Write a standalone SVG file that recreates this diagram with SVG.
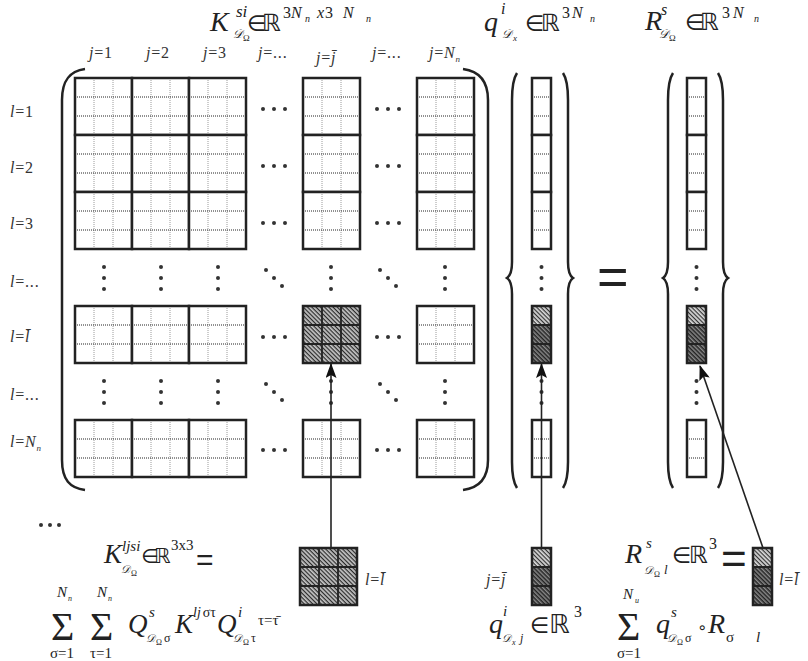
<svg xmlns="http://www.w3.org/2000/svg" xmlns:xlink="http://www.w3.org/1999/xlink" width="808" height="661" viewBox="0 0 808 661" font-family="'Liberation Serif', 'DejaVu Serif', serif">
<style>
.t{font-family:'Liberation Serif','DejaVu Serif',serif;fill:#222}
.i{font-style:italic}
.s{font-family:'Liberation Sans','DejaVu Sans',sans-serif;fill:#222}
.r{font-family:'DejaVu Sans',sans-serif;fill:#222}
.c{font-family:'DejaVu Serif','DejaVu Sans',serif;font-style:italic;fill:#222}
.lab{font-family:'Liberation Serif','DejaVu Serif',serif;font-size:16px;letter-spacing:0.8px;fill:#333}
.bk{fill:none;stroke:#222;stroke-width:2.5}
.dot{fill:#333}
.cn{stroke:#222;stroke-width:1.6;fill:none}
</style>
<defs>
<pattern id="hL" width="3" height="3" patternUnits="userSpaceOnUse" patternTransform="rotate(45)"><rect width="3" height="3" fill="#d8d8d8"/><rect width="3" height="1.2" fill="#333"/></pattern>
<pattern id="hD" width="3" height="3" patternUnits="userSpaceOnUse" patternTransform="rotate(45)"><rect width="3" height="3" fill="#8a8a8a"/><rect width="3" height="1.5" fill="#222"/></pattern>
<pattern id="hM" width="3" height="3" patternUnits="userSpaceOnUse" patternTransform="rotate(45)"><rect width="3" height="3" fill="#c4c4c4"/><rect width="3" height="1.2" fill="#2a2a2a"/></pattern>
<g id="blk">
<rect width="57" height="57" fill="#fff"/>
<path d="M19,0V57M38,0V57" stroke="#9a9a9a" stroke-width="1" stroke-dasharray="1 1"/>
<path d="M0,19H57M0,38H57" stroke="#222" stroke-width="1" stroke-dasharray="1 1"/>
<rect width="57" height="57" class="bk"/>
</g>
<g id="hblk">
<rect width="57" height="57" fill="url(#hM)"/>
<path d="M19,0V57M38,0V57M0,19H57M0,38H57" stroke="#222" stroke-width="1.8"/>
<rect width="57" height="57" class="bk"/>
</g>
<g id="vseg">
<rect width="19" height="57" fill="#fff"/>
<path d="M0,19H19M0,38H19" stroke="#222" stroke-width="1" stroke-dasharray="1 1"/>
<rect width="19" height="57" class="bk"/>
</g>
<g id="hvec">
<rect width="19" height="19" fill="url(#hL)"/>
<rect y="19" width="19" height="38" fill="url(#hD)"/>
<path d="M0,19H19M0,38H19" stroke="#222" stroke-width="1.8"/>
<rect width="19" height="57" class="bk"/>
</g>
<marker id="arr" viewBox="0 0 15 11" refX="14" refY="5.5" markerWidth="15" markerHeight="11" orient="auto" markerUnits="userSpaceOnUse"><path d="M0,0 L15,5.5 L0,11 L3,5.5 z" fill="#111"/></marker>
</defs>
<rect width="808" height="661" fill="#fff"/>

<!-- Titles -->
<g id="title-K">
<text class="t i" x="210" y="31" font-size="28">K</text>
<text class="t i" x="236" y="17" font-size="17">si</text>
<text class="c" x="233" y="38" font-size="12">𝒟</text>
<text class="t" x="243" y="41" font-size="9">Ω</text>
<text class="r" x="247" y="31" font-size="22">∈</text>
<text class="r" x="262" y="31" font-size="24">ℝ</text>
<text class="t" x="283" y="18" font-size="16">3</text>
<text class="t i" x="291" y="18" font-size="16">N</text>
<text class="t i" x="305" y="22" font-size="10">n</text>
<text class="t i" x="317" y="18" font-size="16">x</text>
<text class="t" x="325" y="18" font-size="16">3</text>
<text class="t i" x="343" y="18" font-size="16">N</text>
<text class="t i" x="366" y="22" font-size="10">n</text>
</g>
<g id="title-q">
<text class="t i" x="484" y="31" font-size="28">q</text>
<text class="t i" x="501" y="14" font-size="16">i</text>
<text class="c" x="502" y="38" font-size="12">𝒟</text>
<text class="t i" x="513" y="41" font-size="9">x</text>
<text class="r" x="525" y="31" font-size="22">∈</text>
<text class="r" x="541" y="31" font-size="24">ℝ</text>
<text class="t" x="562" y="18" font-size="16">3</text>
<text class="t i" x="572" y="18" font-size="16">N</text>
<text class="t i" x="590" y="22" font-size="10">n</text>
</g>
<g id="title-R">
<text class="t i" x="645" y="30" font-size="28">R</text>
<text class="t i" x="661" y="15" font-size="16">s</text>
<text class="c" x="659" y="38" font-size="12">𝒟</text>
<text class="t" x="669" y="41" font-size="9">Ω</text>
<text class="r" x="685" y="30" font-size="22">∈</text>
<text class="r" x="700" y="30" font-size="24">ℝ</text>
<text class="t" x="722" y="18" font-size="16">3</text>
<text class="t i" x="733" y="18" font-size="16">N</text>
<text class="t i" x="754" y="22" font-size="10">n</text>
</g>

<!-- column labels -->
<g id="col-labels" class="lab">
<text x="89" y="58"><tspan class="i">j</tspan>=1</text>
<text x="146" y="58"><tspan class="i">j</tspan>=2</text>
<text x="203" y="58"><tspan class="i">j</tspan>=3</text>
<text x="258" y="58"><tspan class="i">j</tspan>=...</text>
<text x="316" y="63"><tspan class="i">j</tspan>=<tspan class="i">j̄</tspan></text>
<text x="372" y="58"><tspan class="i">j</tspan>=...</text>
<text x="429" y="58"><tspan class="i">j</tspan>=<tspan class="i">N</tspan><tspan class="i" font-size="9" dy="4">n</tspan></text>
</g>

<!-- row labels -->
<g id="row-labels" class="lab">
<text x="10" y="117"><tspan class="i">l</tspan>=1</text>
<text x="10" y="173"><tspan class="i">l</tspan>=2</text>
<text x="10" y="229"><tspan class="i">l</tspan>=3</text>
<text x="10" y="287"><tspan class="i">l</tspan>=...</text>
<text x="10" y="342"><tspan class="i">l</tspan>=<tspan class="i">l̄</tspan></text>
<text x="10" y="400"><tspan class="i">l</tspan>=...</text>
<text x="10" y="447"><tspan class="i">l</tspan>=<tspan class="i">N</tspan><tspan class="i" font-size="9" dy="4">n</tspan></text>
</g>

<!-- Matrix K -->
<g id="matrix-K">
<path class="bk" d="M85,69 C70,71 62,80 62,100 L62,460 C62,480 70,488 85,490"/>
<path class="bk" d="M463,69 C478,71 488,80 488,100 L488,460 C488,480 478,488 463,490"/>
<use xlink:href="#blk" x="75" y="78"/><use xlink:href="#blk" x="132" y="78"/><use xlink:href="#blk" x="189" y="78"/><use xlink:href="#blk" x="303" y="78"/><use xlink:href="#blk" x="417" y="78"/>
<use xlink:href="#blk" x="75" y="135"/><use xlink:href="#blk" x="132" y="135"/><use xlink:href="#blk" x="189" y="135"/><use xlink:href="#blk" x="303" y="135"/><use xlink:href="#blk" x="417" y="135"/>
<use xlink:href="#blk" x="75" y="192"/><use xlink:href="#blk" x="132" y="192"/><use xlink:href="#blk" x="189" y="192"/><use xlink:href="#blk" x="303" y="192"/><use xlink:href="#blk" x="417" y="192"/>
<use xlink:href="#blk" x="75" y="306"/><use xlink:href="#blk" x="132" y="306"/><use xlink:href="#blk" x="189" y="306"/><use xlink:href="#hblk" x="303" y="306"/><use xlink:href="#blk" x="417" y="306"/>
<use xlink:href="#blk" x="75" y="420"/><use xlink:href="#blk" x="132" y="420"/><use xlink:href="#blk" x="189" y="420"/><use xlink:href="#blk" x="303" y="420"/><use xlink:href="#blk" x="417" y="420"/>
<g class="dot">
<circle cx="263" cy="109" r="2"/><circle cx="274" cy="109" r="2"/><circle cx="285" cy="109" r="2"/>
<circle cx="377" cy="109" r="2"/><circle cx="388" cy="109" r="2"/><circle cx="399" cy="109" r="2"/>
<circle cx="263" cy="166" r="2"/><circle cx="274" cy="166" r="2"/><circle cx="285" cy="166" r="2"/>
<circle cx="377" cy="166" r="2"/><circle cx="388" cy="166" r="2"/><circle cx="399" cy="166" r="2"/>
<circle cx="263" cy="223" r="2"/><circle cx="274" cy="223" r="2"/><circle cx="285" cy="223" r="2"/>
<circle cx="377" cy="223" r="2"/><circle cx="388" cy="223" r="2"/><circle cx="399" cy="223" r="2"/>
<circle cx="263" cy="337" r="2"/><circle cx="274" cy="337" r="2"/><circle cx="285" cy="337" r="2"/>
<circle cx="377" cy="337" r="2"/><circle cx="388" cy="337" r="2"/><circle cx="399" cy="337" r="2"/>
<circle cx="263" cy="450" r="2"/><circle cx="274" cy="450" r="2"/><circle cx="285" cy="450" r="2"/>
<circle cx="377" cy="450" r="2"/><circle cx="388" cy="450" r="2"/><circle cx="399" cy="450" r="2"/>
<circle cx="104" cy="267" r="2"/><circle cx="104" cy="278" r="2"/><circle cx="104" cy="289" r="2"/>
<circle cx="161" cy="267" r="2"/><circle cx="161" cy="278" r="2"/><circle cx="161" cy="289" r="2"/>
<circle cx="218" cy="267" r="2"/><circle cx="218" cy="278" r="2"/><circle cx="218" cy="289" r="2"/>
<circle cx="331" cy="267" r="2"/><circle cx="331" cy="278" r="2"/><circle cx="331" cy="289" r="2"/>
<circle cx="445" cy="267" r="2"/><circle cx="445" cy="278" r="2"/><circle cx="445" cy="289" r="2"/>
<circle cx="104" cy="381" r="2"/><circle cx="104" cy="392" r="2"/><circle cx="104" cy="403" r="2"/>
<circle cx="161" cy="381" r="2"/><circle cx="161" cy="392" r="2"/><circle cx="161" cy="403" r="2"/>
<circle cx="218" cy="381" r="2"/><circle cx="218" cy="392" r="2"/><circle cx="218" cy="403" r="2"/>
<circle cx="331" cy="381" r="2"/><circle cx="331" cy="392" r="2"/><circle cx="331" cy="403" r="2"/>
<circle cx="445" cy="381" r="2"/><circle cx="445" cy="392" r="2"/><circle cx="445" cy="403" r="2"/>
<circle cx="266" cy="270" r="2"/><circle cx="274" cy="278" r="2"/><circle cx="282" cy="286" r="2"/>
<circle cx="380" cy="270" r="2"/><circle cx="388" cy="278" r="2"/><circle cx="396" cy="286" r="2"/>
<circle cx="266" cy="384" r="2"/><circle cx="274" cy="392" r="2"/><circle cx="282" cy="400" r="2"/>
<circle cx="380" cy="384" r="2"/><circle cx="388" cy="392" r="2"/><circle cx="396" cy="400" r="2"/>
</g>
</g>

<!-- Vector q -->
<g id="vector-q">
<path class="bk" d="M517,73 C513,79 512,88 512,100 L512,262 C512,271 510,276 507,278 C510,280 512,285 512,294 L512,462 C512,474 513,482 517,488"/>
<path class="bk" d="M563,73 C567,79 568,88 568,100 L568,262 C568,271 570,276 573,278 C570,280 568,285 568,294 L568,462 C568,474 567,482 563,488"/>
<use xlink:href="#vseg" x="532" y="78"/><use xlink:href="#vseg" x="532" y="135"/><use xlink:href="#vseg" x="532" y="192"/>
<use xlink:href="#hvec" x="532" y="306"/><use xlink:href="#vseg" x="532" y="420"/>
<g class="dot">
<circle cx="541.5" cy="267" r="2"/><circle cx="541.5" cy="278" r="2"/><circle cx="541.5" cy="289" r="2"/>
<circle cx="541.5" cy="381" r="2"/><circle cx="541.5" cy="392" r="2"/><circle cx="541.5" cy="403" r="2"/>
</g>
</g>

<text class="s" x="597" y="295" font-size="54">=</text>

<!-- Vector R -->
<g id="vector-R">
<path class="bk" d="M673,73 C669,79 668,88 668,100 L668,262 C668,271 666,276 663,278 C666,280 668,285 668,294 L668,462 C668,474 669,482 673,488"/>
<path class="bk" d="M718,73 C722,79 723,88 723,100 L723,262 C723,271 725,276 728,278 C725,280 723,285 723,294 L723,462 C723,474 722,482 718,488"/>
<use xlink:href="#vseg" x="687" y="78"/><use xlink:href="#vseg" x="687" y="135"/><use xlink:href="#vseg" x="687" y="192"/>
<use xlink:href="#hvec" x="687" y="306"/><use xlink:href="#vseg" x="687" y="420"/>
<g class="dot">
<circle cx="696.5" cy="267" r="2"/><circle cx="696.5" cy="278" r="2"/><circle cx="696.5" cy="289" r="2"/>
<circle cx="696.5" cy="381" r="2"/><circle cx="696.5" cy="392" r="2"/><circle cx="696.5" cy="403" r="2"/>
</g>
</g>

<!-- connectors -->
<g id="connectors">
<path class="cn" d="M331,548 L331,364" marker-end="url(#arr)"/>
<path class="cn" d="M541.5,548 L541.5,364" marker-end="url(#arr)"/>
<path class="cn" d="M763,548 L700,366" marker-end="url(#arr)"/>
</g>

<!-- bottom blocks -->
<g id="block-Kljsi">
<use xlink:href="#hblk" x="300" y="548"/>
<text class="lab" x="365" y="585"><tspan class="i">l</tspan>=<tspan class="i">l̄</tspan></text>
</g>
<g id="block-q">
<use xlink:href="#hvec" x="532" y="548"/>
<text class="lab" x="486" y="585"><tspan class="i">j</tspan>=<tspan class="i">j̄</tspan></text>
</g>
<g id="block-R">
<use xlink:href="#hvec" x="753" y="548"/>
<text class="lab" x="779" y="585"><tspan class="i">l</tspan>=<tspan class="i">l̄</tspan></text>
</g>

<!-- bottom formula K -->
<g id="formula-K">
<g class="dot"><circle cx="41" cy="525" r="2"/><circle cx="50" cy="525" r="2"/><circle cx="59" cy="525" r="2"/></g>
<text class="t i" x="104" y="563" font-size="27">K</text>
<text class="t i" x="122" y="551" font-size="15">ljsi</text>
<text class="c" x="121" y="573" font-size="11">𝒟</text>
<text class="t" x="131" y="576" font-size="8">Ω</text>
<text class="r" x="141" y="563" font-size="20">∈</text>
<text class="r" x="154" y="563" font-size="21">ℝ</text>
<text class="t" x="171" y="550" font-size="15">3x3</text>
<text class="s" x="196" y="570" font-size="30">=</text>
<text class="t" x="51" y="640" font-size="40">Σ</text>
<text class="t i" x="57" y="597" font-size="15">N</text>
<text class="t i" x="68" y="601" font-size="8">n</text>
<text class="t" x="50" y="658" font-size="15">σ=1</text>
<text class="t" x="90" y="640" font-size="40">Σ</text>
<text class="t i" x="97" y="597" font-size="15">N</text>
<text class="t i" x="108" y="601" font-size="8">n</text>
<text class="t" x="90" y="658" font-size="15">τ=1</text>
<text class="t i" x="128" y="633" font-size="27">Q</text>
<text class="t i" x="149" y="617" font-size="15">s</text>
<text class="c" x="146" y="642" font-size="11">𝒟</text>
<text class="t" x="156" y="645" font-size="8">Ω</text>
<text class="t" x="164" y="642" font-size="12">σ</text>
<text class="t i" x="175" y="633" font-size="27">K</text>
<text class="t" x="193" y="617" font-size="14"><tspan class="i">lj</tspan><tspan dx="2">στ</tspan></text>
<text class="t i" x="217" y="633" font-size="27">Q</text>
<text class="t i" x="238" y="617" font-size="15">i</text>
<text class="c" x="233" y="642" font-size="11">𝒟</text>
<text class="t" x="243" y="645" font-size="8">Ω</text>
<text class="t" x="251" y="642" font-size="12">τ</text>
<text class="t" x="258" y="625" font-size="15">τ=τ̄</text>
</g>

<!-- bottom formula q -->
<g id="formula-q">
<text class="t i" x="489" y="633" font-size="28">q</text>
<text class="t i" x="503" y="616" font-size="15">i</text>
<text class="c" x="502" y="642" font-size="11">𝒟</text>
<text class="t i" x="512" y="645" font-size="8">x</text>
<text class="t i" x="520" y="642" font-size="12">j</text>
<text class="r" x="530" y="633" font-size="22">∈</text>
<text class="r" x="549" y="633" font-size="26">ℝ</text>
<text class="t" x="574" y="617" font-size="16">3</text>
</g>

<!-- bottom formula R -->
<g id="formula-R">
<text class="t i" x="625" y="563" font-size="28">R</text>
<text class="t i" x="646" y="548" font-size="15">s</text>
<text class="c" x="644" y="574" font-size="11">𝒟</text>
<text class="t" x="654" y="577" font-size="8">Ω</text>
<text class="t i" x="664" y="574" font-size="13">l</text>
<text class="r" x="672" y="563" font-size="22">∈</text>
<text class="r" x="689" y="563" font-size="24">ℝ</text>
<text class="t" x="709" y="549" font-size="16">3</text>
<text class="s" x="721" y="574" font-size="44">=</text>
<text class="t" x="617" y="640" font-size="40">Σ</text>
<text class="t i" x="623" y="599" font-size="15">N</text>
<text class="t i" x="635" y="603" font-size="8">u</text>
<text class="t" x="617" y="658" font-size="15">σ=1</text>
<text class="t i" x="656" y="633" font-size="28">q</text>
<text class="t i" x="671" y="617" font-size="15">s</text>
<text class="c" x="667" y="642" font-size="11">𝒟</text>
<text class="t" x="677" y="645" font-size="8">Ω</text>
<text class="t" x="685" y="642" font-size="12">σ</text>
<text class="r" x="697" y="633" font-size="16">∘</text>
<text class="t i" x="708" y="633" font-size="28">R</text>
<text class="t" x="726" y="642" font-size="15">σ</text>
<text class="t i" x="756" y="642" font-size="15">l</text>
</g>
</svg>
